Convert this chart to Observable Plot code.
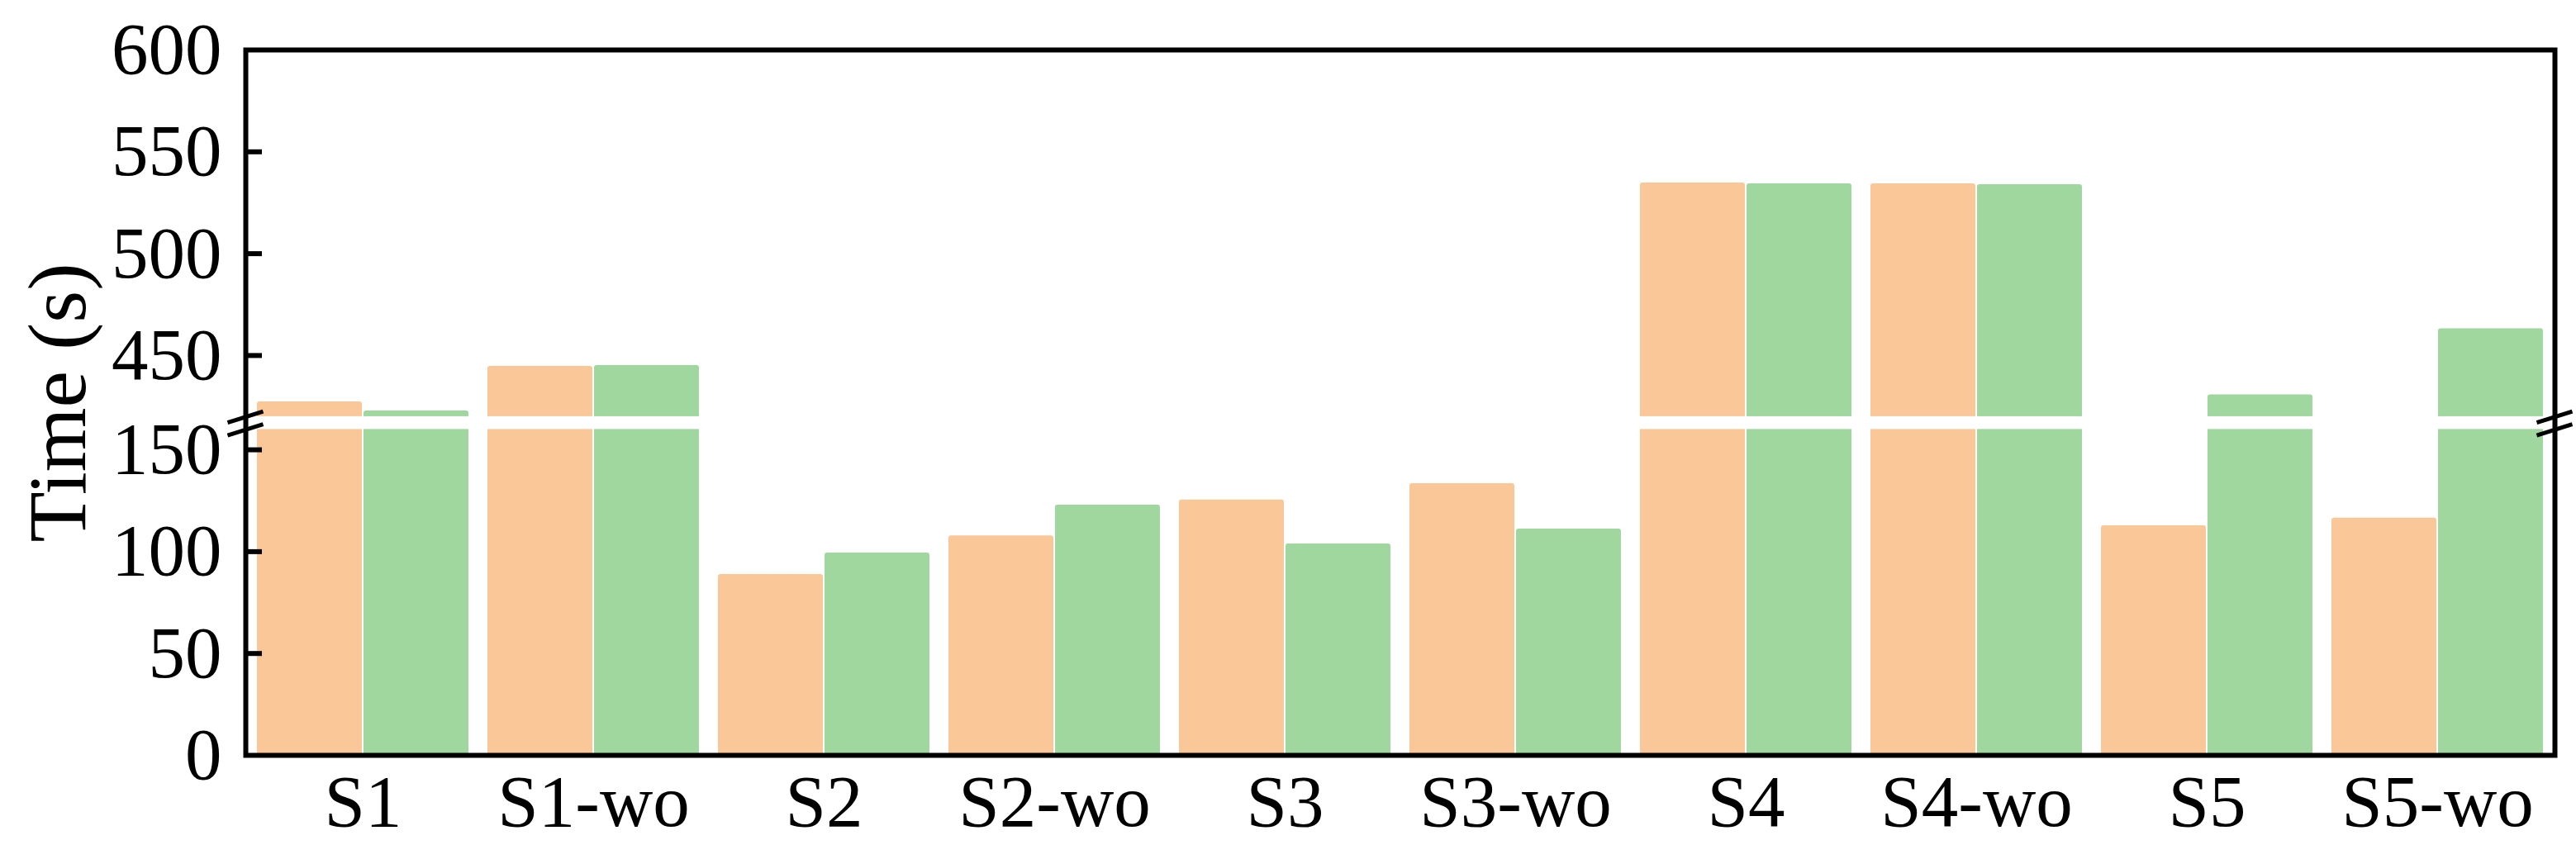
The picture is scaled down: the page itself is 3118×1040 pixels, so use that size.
<!DOCTYPE html>
<html>
<head>
<meta charset="utf-8">
<script src="https://cdn.jsdelivr.net/npm/d3@7"></script>
<script src="https://cdn.jsdelivr.net/npm/@observablehq/plot@0.6"></script>
<style>
  html, body { margin: 0; padding: 0; background: #fff; }
  #chart { width: 3118px; height: 1040px; }
</style>
</head>
<body>
<div id="chart"></div>
<script>
// ---- data ----
const categories = ["S1", "S1-wo", "S2", "S2-wo", "S3", "S3-wo", "S4", "S4-wo", "S5", "S5-wo"];
const seriesAValues = [427.3, 444.7, 88.8, 107.8, 125.4, 133.4, 534.7, 534.3, 112.7, 116.5];
const seriesBValues = [422.8, 445.1, 99.3, 122.9, 103.8, 111.1, 534.3, 533.9, 430.7, 463.1];
const yTickValues = [0, 50, 100, 150, 450, 500, 550, 600];
const yInnerTicks = [50, 100, 150, 450, 500, 550];
const yTitle = "Time (s)";
// broken axis: lower part 0–160, upper part 420–600
const lowerMax = 160, upperMin = 420, upperMax = 600;

// ---- layout ----
const W = 3118, H = 1040;
const mTop = 60, mBottom = 126, mLeft = 297, mRight = 26;
const gap = 15.5;
const plotH = H - mTop - mBottom;
const k = (plotH - gap) / (lowerMax + (upperMax - upperMin));
const yBottom = H - mBottom;
const yRange = [yBottom, yBottom - lowerMax * k, yBottom - lowerMax * k - gap, mTop];

const rowsA = categories.map((c, i) => ({cat: c, value: seriesAValues[i]}));
const rowsB = categories.map((c, i) => ({cat: c, value: seriesBValues[i]}));

const font = "'Liberation Serif', 'Times New Roman', serif";
const fs = 89;
const frameW = W - mLeft - mRight;

function breakMarks(index, scales, values, dimensions) {
  const {marginLeft, marginRight, width} = dimensions;
  const g = d3.create("svg:g");
  const xs = [marginLeft, width - marginRight];
  const ys = [scales.y(upperMin) + 1, scales.y(lowerMax) + 1];
  for (const x of xs) for (const y of ys) {
    g.append("line")
      .attr("x1", x - 21.5).attr("y1", y + 6.7)
      .attr("x2", x + 21.5).attr("y2", y - 6.7)
      .attr("stroke", "black").attr("stroke-width", 5);
  }
  return g.node();
}

const chart = Plot.plot({
  width: W,
  height: H,
  marginTop: mTop,
  marginBottom: mBottom,
  marginLeft: mLeft,
  marginRight: mRight,
  style: {fontFamily: font, fontSize: fs + "px", background: "white", color: "black"},
  x: {domain: categories, paddingInner: 0.084, paddingOuter: 0.04, label: null},
  y: {type: "linear", domain: [0, lowerMax, upperMin, upperMax], range: yRange, label: null},
  marks: [
    Plot.barY(rowsA, {x: "cat", y1: 0, y2: "value", fill: "#FAC898", insetRight: 129, rx: 3}),
    Plot.barY(rowsB, {x: "cat", y1: 0, y2: "value", fill: "#9FD79E", insetLeft: 129, rx: 3}),
    Plot.rect([0], {y1: lowerMax, y2: upperMin, fill: "white"}),
    Plot.tickY(yInnerTicks, {y: d => d, stroke: "black", strokeWidth: 6, insetRight: frameW - 20}),
    Plot.frame({stroke: "black", strokeWidth: 6}),
    breakMarks,
    Plot.axisY({ticks: yTickValues, tickSize: 0, tickPadding: 29, fontSize: fs, label: null}),
    Plot.axisX({tickSize: 0, tickPadding: 22, fontSize: fs, label: null}),
    Plot.text([yTitle], {frameAnchor: "left", text: d => d, rotate: -90, dx: 70 - mLeft,
      fontSize: 100, textAnchor: "middle", lineAnchor: "middle", fill: "black"})
  ]
});
document.getElementById("chart").appendChild(chart);
</script>
</body>
</html>
